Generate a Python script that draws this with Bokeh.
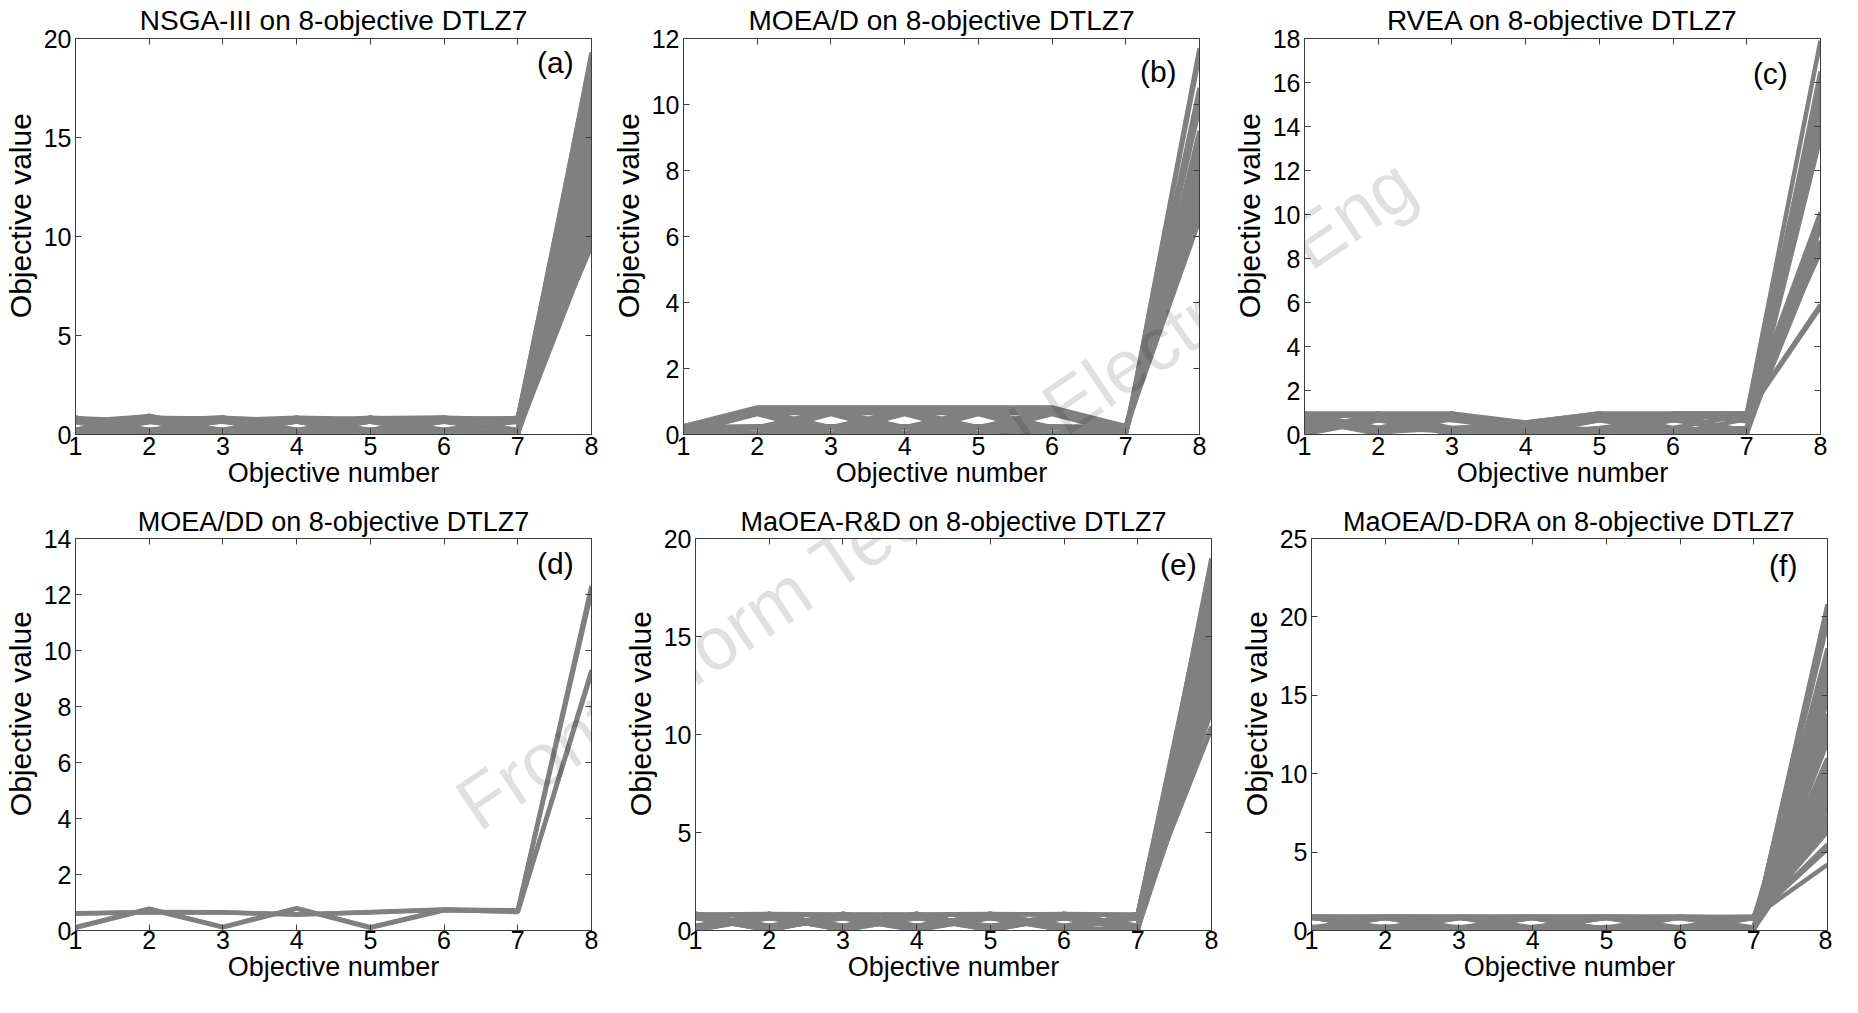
from bokeh.plotting import figure
from bokeh.models import FixedTicker, LinearAxis, Range1d, Label
from bokeh.layouts import column, row
from bokeh.embed import file_html
from bokeh.resources import INLINE

# ---------------- data ----------------
objective_number = [1, 2, 3, 4, 5, 6, 7, 8]

titles = ["NSGA-III on 8-objective DTLZ7", "MOEA/D on 8-objective DTLZ7",
          "RVEA on 8-objective DTLZ7", "MOEA/DD on 8-objective DTLZ7",
          "MaOEA-R&D on 8-objective DTLZ7", "MaOEA/D-DRA on 8-objective DTLZ7"]
tags = ["(a)", "(b)", "(c)", "(d)", "(e)", "(f)"]
x_label = "Objective number"
y_label = "Objective value"
watermark = "Front Inform Technol Electron Eng"

yticks_a = [0, 5, 10, 15, 20]
yticks_b = [0, 2, 4, 6, 8, 10, 12]
yticks_c = [0, 2, 4, 6, 8, 10, 12, 14, 16, 18]
yticks_d = [0, 2, 4, 6, 8, 10, 12, 14]
yticks_e = [0, 5, 10, 15, 20]
yticks_f = [0, 5, 10, 15, 20, 25]

# each row: objective values f1..f8 of one solution
nsga3_values = [
    [0.02, 0.85, 0.10, 0.70, 0.20, 0.80, 0.05, 19.3],
    [0.80, 0.05, 0.75, 0.15, 0.85, 0.02, 0.70, 19.1],
    [0.15, 0.65, 0.80, 0.02, 0.70, 0.10, 0.85, 18.8],
    [0.70, 0.20, 0.05, 0.85, 0.10, 0.75, 0.15, 18.6],
    [0.05, 0.78, 0.22, 0.66, 0.02, 0.85, 0.20, 18.3],
    [0.85, 0.10, 0.68, 0.20, 0.78, 0.05, 0.80, 18.1],
    [0.22, 0.02, 0.85, 0.10, 0.65, 0.22, 0.02, 17.9],
    [0.65, 0.92, 0.15, 0.78, 0.20, 0.70, 0.65, 17.6],
    [0.10, 0.20, 0.70, 0.05, 0.85, 0.15, 0.75, 17.4],
    [0.75, 0.70, 0.02, 0.82, 0.05, 0.85, 0.10, 17.1],
    [0.02, 0.15, 0.78, 0.24, 0.70, 0.02, 0.82, 16.9],
    [0.82, 0.68, 0.20, 0.05, 0.80, 0.65, 0.22, 16.7],
    [0.20, 0.85, 0.65, 0.72, 0.15, 0.20, 0.68, 16.4],
    [0.68, 0.02, 0.10, 0.18, 0.22, 0.82, 0.05, 16.2],
    [0.12, 0.72, 0.85, 0.65, 0.02, 0.10, 0.78, 15.9],
    [0.78, 0.22, 0.24, 0.80, 0.68, 0.70, 0.12, 15.7],
    [0.24, 0.80, 0.05, 0.02, 0.82, 0.05, 0.85, 15.5],
    [0.64, 0.12, 0.72, 0.85, 0.12, 0.78, 0.02, 15.2],
    [0.05, 0.95, 0.18, 0.10, 0.75, 0.24, 0.70, 15.0],
    [0.86, 0.05, 0.82, 0.70, 0.05, 0.66, 0.18, 14.8],
    [0.18, 0.66, 0.02, 0.22, 0.66, 0.80, 0.82, 14.5],
    [0.72, 0.24, 0.66, 0.68, 0.24, 0.02, 0.08, 14.3],
    [0.08, 0.82, 0.76, 0.05, 0.85, 0.70, 0.24, 14.0],
    [0.66, 0.10, 0.12, 0.76, 0.02, 0.12, 0.72, 13.8],
    [0.25, 0.75, 0.85, 0.15, 0.72, 0.85, 0.02, 13.6],
    [0.80, 0.02, 0.22, 0.85, 0.18, 0.18, 0.85, 13.3],
    [0.02, 0.70, 0.68, 0.02, 0.80, 0.68, 0.15, 13.1],
    [0.70, 0.18, 0.05, 0.66, 0.08, 0.24, 0.66, 12.9],
    [0.14, 0.85, 0.80, 0.20, 0.70, 0.02, 0.80, 12.6],
    [0.84, 0.08, 0.15, 0.78, 0.22, 0.85, 0.05, 12.4],
    [0.06, 0.62, 0.70, 0.12, 0.85, 0.08, 0.70, 12.2],
    [0.76, 0.22, 0.02, 0.80, 0.05, 0.72, 0.20, 11.9],
    [0.20, 0.80, 0.82, 0.05, 0.66, 0.15, 0.84, 11.7],
    [0.62, 0.02, 0.24, 0.70, 0.15, 0.80, 0.02, 11.5],
    [0.10, 0.68, 0.10, 0.84, 0.78, 0.05, 0.68, 11.2],
    [0.85, 0.16, 0.80, 0.08, 0.02, 0.68, 0.12, 11.0],
    [0.04, 0.86, 0.64, 0.22, 0.10, 0.84, 0.76, 10.8],
    [0.72, 0.06, 0.08, 0.66, 0.84, 0.20, 0.04, 10.5],
    [0.16, 0.74, 0.84, 0.04, 0.20, 0.74, 0.62, 10.3],
    [0.66, 0.24, 0.14, 0.74, 0.64, 0.04, 0.24, 10.1],
    [0.22, 0.64, 0.74, 0.16, 0.76, 0.10, 0.80, 9.9],
    [0.80, 0.14, 0.20, 0.84, 0.06, 0.82, 0.10, 9.7],
    [0.08, 0.78, 0.66, 0.10, 0.84, 0.16, 0.86, 9.5],
    [0.74, 0.04, 0.84, 0.24, 0.12, 0.76, 0.06, 12.8],
    [0.12, 0.84, 0.04, 0.76, 0.70, 0.22, 0.74, 14.6],
    [0.84, 0.20, 0.70, 0.14, 0.24, 0.64, 0.16, 16.0],
    [0.06, 0.66, 0.24, 0.82, 0.66, 0.06, 0.80, 17.8],
    [0.68, 0.12, 0.86, 0.04, 0.82, 0.86, 0.04, 18.9],
]

moead_values = [
    [0.00, 0.00, 0.00, 0.00, 0.00, 0.00, 0.00, 11.7],
    [0.02, 0.02, 0.02, 0.02, 0.02, 0.02, 0.02, 11.5],
    [0.25, 0.82, 0.82, 0.82, 0.82, 0.82, 0.25, 6.6],
    [0.22, 0.80, 0.80, 0.80, 0.80, 0.80, 0.22, 6.8],
    [0.20, 0.78, 0.78, 0.78, 0.78, 0.78, 0.20, 6.5],
    [0.20, 0.70, 0.22, 0.70, 0.22, 0.70, 0.18, 7.3],
    [0.18, 0.68, 0.20, 0.68, 0.20, 0.68, 0.15, 7.5],
    [0.15, 0.22, 0.70, 0.22, 0.70, 0.22, 0.15, 7.7],
    [0.12, 0.20, 0.68, 0.20, 0.68, 0.20, 0.12, 7.9],
    [0.05, 0.65, 0.02, 0.65, 0.02, 0.65, 0.02, 8.8],
    [0.04, 0.62, 0.04, 0.62, 0.04, 0.62, 0.04, 9.0],
    [0.02, 0.02, 0.65, 0.02, 0.65, 0.02, 0.02, 9.2],
    [0.03, 0.04, 0.62, 0.04, 0.62, 0.04, 0.03, 10.1],
    [0.05, 0.22, 0.22, 0.22, 0.22, 0.22, 0.05, 10.5],
    [0.08, 0.20, 0.20, 0.20, 0.20, 0.20, 0.08, 10.3],
    [0.22, 0.25, 0.25, 0.25, 0.25, 0.25, 0.22, 8.5],
    [0.10, 0.72, 0.72, 0.72, 0.72, 0.72, 0.10, 7.1],
    [0.18, 0.22, 0.02, 0.22, 0.02, 0.22, 0.20, 9.9],
    [0.15, 0.02, 0.22, 0.02, 0.22, 0.02, 0.18, 8.3],
    [0.25, 0.75, 0.20, 0.75, 0.20, 0.75, 0.25, 6.9],
    [0.20, 0.20, 0.75, 0.20, 0.75, 0.20, 0.22, 7.2],
    [0.10, 0.65, 0.65, 0.65, 0.65, 0.65, 0.12, 8.1],
]

rvea_values = [
    [0.95, 0.05, 0.90, 0.50, 0.10, 0.95, 0.95, 17.9],
    [0.05, 0.95, 0.10, 0.05, 0.95, 0.10, 0.05, 16.5],
    [0.90, 0.20, 0.95, 0.20, 0.65, 0.90, 0.10, 16.3],
    [0.20, 0.80, 0.05, 0.55, 0.05, 0.30, 0.90, 16.0],
    [0.60, 0.10, 0.30, 0.02, 0.90, 0.65, 0.20, 15.8],
    [0.10, 0.65, 0.70, 0.40, 0.20, 0.05, 0.70, 15.5],
    [0.80, 0.30, 0.15, 0.10, 0.70, 0.80, 0.02, 15.2],
    [0.02, 0.90, 0.65, 0.30, 0.02, 0.95, 0.60, 15.0],
    [0.70, 0.02, 0.80, 0.55, 0.95, 0.20, 0.30, 14.7],
    [0.30, 0.70, 0.02, 0.05, 0.30, 0.70, 0.95, 14.4],
    [0.95, 0.15, 0.95, 0.20, 0.10, 0.02, 0.15, 14.1],
    [0.15, 0.95, 0.20, 0.50, 0.80, 0.90, 0.80, 13.8],
    [0.50, 0.30, 0.90, 0.02, 0.65, 0.10, 0.02, 13.5],
    [0.02, 0.65, 0.10, 0.55, 0.02, 0.65, 0.95, 10.1],
    [0.85, 0.02, 0.70, 0.10, 0.95, 0.30, 0.10, 9.8],
    [0.25, 0.85, 0.02, 0.30, 0.15, 0.95, 0.70, 9.6],
    [0.95, 0.30, 0.95, 0.05, 0.80, 0.02, 0.02, 9.4],
    [0.05, 0.95, 0.30, 0.50, 0.02, 0.80, 0.95, 8.8],
    [0.70, 0.10, 0.95, 0.20, 0.95, 0.10, 0.20, 8.5],
    [0.10, 0.75, 0.05, 0.02, 0.20, 0.90, 0.95, 8.3],
    [0.95, 0.95, 0.95, 0.55, 0.95, 0.95, 0.95, 5.9],
    [0.80, 0.90, 0.85, 0.50, 0.90, 0.85, 0.90, 5.8],
]

moeadd_values = [
    [0.62, 0.65, 0.64, 0.58, 0.64, 0.74, 0.72, 12.3],
    [0.60, 0.66, 0.65, 0.56, 0.66, 0.75, 0.70, 12.1],
    [0.12, 0.78, 0.13, 0.80, 0.12, 0.74, 0.66, 9.3],
    [0.10, 0.76, 0.11, 0.78, 0.10, 0.72, 0.68, 9.2],
]

maoea_rd_values = [
    [0.84, 0.10, 0.70, 0.05, 0.80, 0.15, 0.02, 19.0],
    [0.05, 0.82, 0.15, 0.78, 0.02, 0.70, 0.10, 18.8],
    [0.70, 0.02, 0.85, 0.20, 0.66, 0.05, 0.80, 18.6],
    [0.15, 0.75, 0.05, 0.85, 0.10, 0.82, 0.05, 18.4],
    [0.80, 0.20, 0.68, 0.02, 0.85, 0.20, 0.72, 18.1],
    [0.02, 0.66, 0.22, 0.72, 0.15, 0.65, 0.20, 17.9],
    [0.66, 0.05, 0.80, 0.15, 0.70, 0.02, 0.84, 17.7],
    [0.22, 0.80, 0.02, 0.66, 0.05, 0.85, 0.15, 17.5],
    [0.75, 0.15, 0.72, 0.22, 0.82, 0.10, 0.68, 17.2],
    [0.10, 0.70, 0.20, 0.80, 0.02, 0.75, 0.02, 17.0],
    [0.85, 0.22, 0.65, 0.10, 0.75, 0.22, 0.78, 16.8],
    [0.02, 0.84, 0.10, 0.68, 0.20, 0.66, 0.22, 16.5],
    [0.68, 0.02, 0.82, 0.02, 0.68, 0.15, 0.70, 16.3],
    [0.18, 0.78, 0.24, 0.85, 0.10, 0.80, 0.05, 16.1],
    [0.80, 0.12, 0.66, 0.18, 0.85, 0.02, 0.82, 15.9],
    [0.05, 0.68, 0.05, 0.75, 0.22, 0.72, 0.12, 15.6],
    [0.72, 0.24, 0.78, 0.05, 0.62, 0.20, 0.66, 15.4],
    [0.12, 0.85, 0.18, 0.70, 0.05, 0.68, 0.24, 15.2],
    [0.84, 0.05, 0.85, 0.24, 0.80, 0.12, 0.75, 15.0],
    [0.20, 0.72, 0.02, 0.82, 0.15, 0.84, 0.02, 14.7],
    [0.66, 0.18, 0.70, 0.12, 0.72, 0.05, 0.86, 14.5],
    [0.02, 0.80, 0.22, 0.66, 0.02, 0.70, 0.18, 14.3],
    [0.78, 0.10, 0.62, 0.02, 0.84, 0.24, 0.62, 14.1],
    [0.15, 0.66, 0.12, 0.78, 0.20, 0.62, 0.08, 13.8],
    [0.70, 0.22, 0.84, 0.20, 0.66, 0.18, 0.80, 13.6],
    [0.08, 0.76, 0.05, 0.84, 0.08, 0.82, 0.20, 13.4],
    [0.82, 0.02, 0.74, 0.08, 0.78, 0.08, 0.70, 13.2],
    [0.24, 0.84, 0.20, 0.62, 0.24, 0.66, 0.04, 12.9],
    [0.64, 0.14, 0.66, 0.24, 0.64, 0.02, 0.84, 12.7],
    [0.04, 0.70, 0.08, 0.76, 0.12, 0.78, 0.14, 12.5],
    [0.76, 0.20, 0.80, 0.04, 0.80, 0.14, 0.66, 12.3],
    [0.18, 0.62, 0.14, 0.80, 0.04, 0.86, 0.24, 12.0],
    [0.86, 0.08, 0.68, 0.14, 0.70, 0.24, 0.74, 11.8],
    [0.10, 0.78, 0.24, 0.70, 0.18, 0.64, 0.06, 11.6],
    [0.62, 0.16, 0.76, 0.22, 0.76, 0.06, 0.78, 11.4],
    [0.06, 0.74, 0.04, 0.64, 0.22, 0.76, 0.16, 11.2],
    [0.82, 0.80, 0.80, 0.82, 0.84, 0.80, 0.82, 10.4],
    [0.80, 0.84, 0.82, 0.80, 0.80, 0.84, 0.80, 10.3],
    [0.14, 0.64, 0.16, 0.86, 0.06, 0.70, 0.10, 16.6],
    [0.74, 0.04, 0.86, 0.06, 0.82, 0.16, 0.64, 14.9],
    [0.20, 0.86, 0.06, 0.74, 0.14, 0.84, 0.22, 13.0],
    [0.70, 0.06, 0.72, 0.16, 0.74, 0.04, 0.76, 11.9],
    [0.04, 0.72, 0.20, 0.66, 0.06, 0.64, 0.04, 17.3],
    [0.78, 0.24, 0.64, 0.04, 0.86, 0.10, 0.86, 18.2],
]

maoead_dra_values = [
    [0.02, 0.05, 0.10, 0.02, 0.08, 0.05, 0.02, 20.8],
    [0.10, 0.02, 0.05, 0.12, 0.02, 0.10, 0.08, 20.5],
    [0.05, 0.15, 0.02, 0.05, 0.15, 0.02, 0.12, 20.2],
    [0.20, 0.08, 0.18, 0.02, 0.05, 0.22, 0.02, 19.9],
    [0.02, 0.22, 0.05, 0.20, 0.10, 0.05, 0.20, 19.6],
    [0.85, 0.05, 0.15, 0.10, 0.02, 0.20, 0.05, 18.0],
    [0.10, 0.80, 0.02, 0.20, 0.15, 0.02, 0.22, 17.6],
    [0.22, 0.02, 0.85, 0.05, 0.20, 0.10, 0.02, 17.2],
    [0.05, 0.20, 0.10, 0.82, 0.02, 0.15, 0.80, 16.5],
    [0.15, 0.10, 0.22, 0.02, 0.85, 0.05, 0.10, 16.2],
    [0.02, 0.25, 0.05, 0.15, 0.10, 0.88, 0.15, 15.8],
    [0.80, 0.85, 0.10, 0.05, 0.22, 0.02, 0.05, 15.4],
    [0.20, 0.05, 0.80, 0.85, 0.05, 0.20, 0.02, 15.0],
    [0.05, 0.15, 0.02, 0.22, 0.80, 0.85, 0.20, 14.6],
    [0.85, 0.02, 0.88, 0.10, 0.15, 0.05, 0.85, 13.8],
    [0.10, 0.82, 0.20, 0.80, 0.02, 0.22, 0.88, 13.4],
    [0.88, 0.10, 0.05, 0.02, 0.82, 0.80, 0.10, 12.9],
    [0.02, 0.88, 0.85, 0.15, 0.10, 0.05, 0.80, 12.5],
    [0.22, 0.20, 0.15, 0.88, 0.85, 0.10, 0.05, 12.0],
    [0.80, 0.85, 0.82, 0.02, 0.20, 0.85, 0.15, 11.0],
    [0.15, 0.80, 0.05, 0.85, 0.88, 0.02, 0.82, 10.7],
    [0.85, 0.05, 0.80, 0.80, 0.10, 0.88, 0.02, 10.4],
    [0.05, 0.88, 0.85, 0.20, 0.82, 0.80, 0.10, 10.0],
    [0.82, 0.15, 0.88, 0.85, 0.80, 0.02, 0.88, 9.6],
    [0.88, 0.82, 0.02, 0.82, 0.85, 0.85, 0.05, 9.2],
    [0.20, 0.85, 0.82, 0.88, 0.05, 0.82, 0.85, 8.8],
    [0.85, 0.80, 0.85, 0.15, 0.88, 0.80, 0.82, 8.4],
    [0.80, 0.88, 0.80, 0.85, 0.80, 0.20, 0.85, 8.0],
    [0.88, 0.85, 0.88, 0.80, 0.02, 0.85, 0.80, 7.7],
    [0.82, 0.20, 0.85, 0.88, 0.85, 0.88, 0.80, 7.3],
    [0.85, 0.88, 0.82, 0.80, 0.88, 0.82, 0.10, 7.0],
    [0.80, 0.85, 0.80, 0.85, 0.85, 0.80, 0.88, 6.6],
    [0.88, 0.82, 0.85, 0.82, 0.80, 0.85, 0.85, 6.3],
    [0.85, 0.88, 0.88, 0.85, 0.88, 0.88, 0.82, 5.5],
    [0.88, 0.85, 0.85, 0.88, 0.82, 0.85, 0.88, 5.2],
    [0.86, 0.88, 0.86, 0.86, 0.88, 0.86, 0.86, 4.2],
]

# ---------------- styling / layout ----------------
FONT = "Liberation Sans"
LINE_GRAY = "#808080"
AXIS_COLOR = "#3c3c3c"
FRAME_W = 520
LEFT = 71
# row 1: title 28px (line height 1.2), row 2: title 27px (line height 1.0)
ROW1 = dict(top=31, frame=403, bottom=69, title_size="28px", title_lh=1.2, title_standoff=5,
            tick_standoff=2, label_standoff=0)
ROW2 = dict(top=32, frame=395, bottom=67, title_size="27px", title_lh=1.0, title_standoff=3,
            tick_standoff=0, label_standoff=0)
ROW1_FRAME_BOTTOM = 8 + ROW1["top"] + ROW1["frame"]
ROW2_FRAME_BOTTOM = ROW1_FRAME_BOTTOM + ROW1["bottom"] + ROW2["top"] + ROW2["frame"]
WM_START = (468, 819)                              # watermark start, page pixels
NBSP = "\u00a0"


def make_panel(title, rows, yticks, tag, tag_x, tag_y, right, frame_left, geo, frame_bottom):
    ymax = yticks[-1]
    p = figure(width=LEFT + FRAME_W + right,
               height=geo["top"] + geo["frame"] + geo["bottom"],
               x_range=Range1d(1, 8), y_range=Range1d(0, ymax),
               min_border_left=LEFT, min_border_right=right,
               min_border_top=geo["top"], min_border_bottom=geo["bottom"],
               output_backend="svg", toolbar_location=None, title=title)
    p.multi_line(xs=[objective_number] * len(rows), ys=rows,
                 line_color=LINE_GRAY, line_width=4.5)

    p.title.text_font = FONT
    p.title.text_font_size = geo["title_size"]
    p.title.text_font_style = "normal"
    p.title.text_color = "black"
    p.title.text_line_height = geo["title_lh"]
    p.title.align = "center"
    p.title.standoff = geo["title_standoff"]

    p.xgrid.visible = False
    p.ygrid.visible = False
    p.outline_line_color = AXIS_COLOR
    p.background_fill_color = "white"
    p.border_fill_color = "white"

    for ax, ticks in ((p.xaxis[0], objective_number), (p.yaxis[0], yticks)):
        ax.ticker = FixedTicker(ticks=ticks)
        ax.major_tick_in = 6
        ax.major_tick_out = 0
        ax.minor_tick_line_color = None
        ax.axis_line_color = AXIS_COLOR
        ax.major_tick_line_color = AXIS_COLOR
        ax.major_label_text_font = FONT
        ax.major_label_text_font_size = "25px"
        ax.major_label_text_color = "black"
        ax.major_label_text_line_height = 1.0
        ax.axis_label_text_font = FONT
        ax.axis_label_text_font_style = "normal"
        ax.axis_label_text_color = "black"
        ax.axis_label_text_line_height = 1.0
    p.xaxis[0].major_label_standoff = geo["tick_standoff"]
    p.xaxis[0].axis_label_standoff = geo["label_standoff"]
    p.yaxis[0].major_label_standoff = 4
    p.yaxis[0].axis_label_standoff = 4
    p.xaxis[0].axis_label = x_label
    p.xaxis[0].axis_label_text_font_size = "27px"
    # leading no-break spaces lift the rotated label a little above the frame centre
    p.yaxis[0].axis_label = NBSP * 5 + y_label
    p.yaxis[0].axis_label_text_font_size = "30px"

    # mirrored tick marks on top and right (box style), no labels
    for loc, ticks in (("above", objective_number), ("right", yticks)):
        ax = LinearAxis(ticker=FixedTicker(ticks=ticks), major_tick_in=6, major_tick_out=0,
                        minor_tick_line_color=None, axis_line_color=AXIS_COLOR,
                        major_tick_line_color=AXIS_COLOR, major_label_text_font_size="1px",
                        major_label_text_color=None, major_label_text_alpha=0,
                        major_label_standoff=0)
        p.add_layout(ax, loc)

    p.add_layout(Label(x=tag_x, y=tag_y, text=tag, text_font=FONT, text_font_size="30px",
                       text_align="center", text_baseline="middle", text_color="black"))

    # faint journal watermark running diagonally across the middle panels
    p.add_layout(Label(x=WM_START[0] - frame_left, y=frame_bottom - WM_START[1],
                       x_units="screen", y_units="screen", text=watermark, angle=34,
                       angle_units="deg", text_font=FONT, text_font_size="75px",
                       text_align="left", text_baseline="alphabetic", level="overlay",
                       text_color="black", text_alpha=0.12))
    return p


# frame left edges (page px): row 1: 79, 687, 1308 ; row 2: 79, 699, 1315
pa = make_panel(titles[0], nsga3_values, yticks_a, tags[0], 7.51, 18.8, 17, 79, ROW1, ROW1_FRAME_BOTTOM)
pb = make_panel(titles[1], moead_values, yticks_b, tags[1], 7.44, 11.0, 30, 687, ROW1, ROW1_FRAME_BOTTOM)
pc = make_panel(titles[2], rvea_values, yticks_c, tags[2], 7.32, 16.4, 10, 1308, ROW1, ROW1_FRAME_BOTTOM)
pd = make_panel(titles[3], moeadd_values, yticks_d, tags[3], 7.51, 13.1, 29, 79, ROW2, ROW2_FRAME_BOTTOM)
pe = make_panel(titles[4], maoea_rd_values, yticks_e, tags[4], 7.55, 18.66, 25, 699, ROW2, ROW2_FRAME_BOTTOM)
pf = make_panel(titles[5], maoead_dra_values, yticks_f, tags[5], 7.40, 23.3, 5, 1315, ROW2, ROW2_FRAME_BOTTOM)

layout = column(row(pa, pb, pc), row(pd, pe, pf))

with open("out.html", "w") as f:
    f.write(file_html(layout, INLINE))
